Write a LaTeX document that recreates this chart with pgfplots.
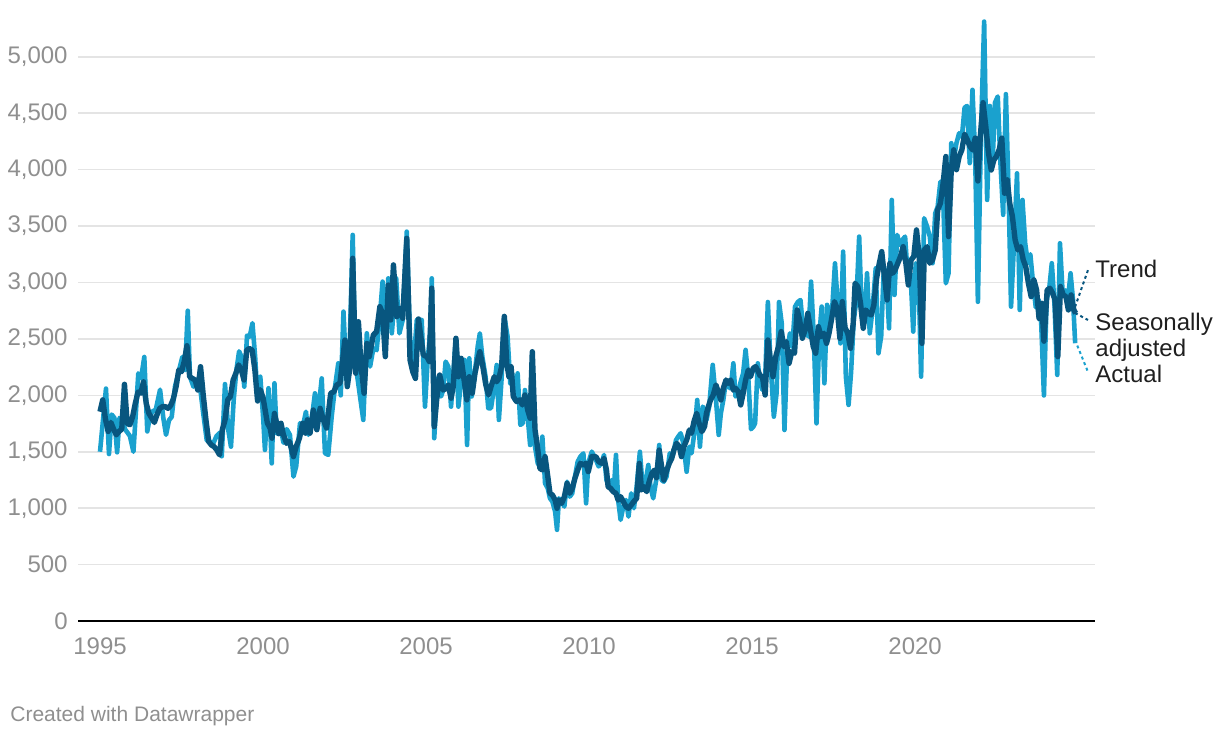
\documentclass[border=0pt]{standalone}
\usepackage{pgfplots}
\pgfplotsset{compat=1.18}
\usepackage{fontspec}
\setmainfont{Liberation Sans}
\definecolor{actual}{HTML}{1AA1CE}
\definecolor{sa}{HTML}{08567F}
\definecolor{tickc}{HTML}{8F8F8F}
\definecolor{gridc}{HTML}{E4E4E4}
\begin{document}
\begin{tikzpicture}[x=1pt,y=1pt]
\path (0,0) rectangle (610,369);
\begin{axis}[
 at={(39pt,58.5pt)}, anchor=south west,
 scale only axis, width=508.5pt, height=301.8pt,
 xmin=-8.1, xmax=366.2, ymin=0, ymax=5350,
 axis line style={draw=none},
 major tick length=0pt,
 xtick={0,60,120,180,240,300},
 xticklabels={1995,2000,2005,2010,2015,2020},
 ytick={0,500,...,5000},
 ymajorgrids, grid style={gridc, line width=0.8pt},
 extra y ticks={0}, extra y tick labels={},
 extra y tick style={grid style={black, line width=1pt}},
 tick label style={font=\fontsize{12}{14}\selectfont, text=tickc},
 /pgf/number format/assume math mode=true,
 yticklabel style={/pgf/number format/1000 sep={,}, anchor=east, inner sep=0pt, xshift=-5pt},
 xticklabel style={anchor=base, inner sep=0pt, yshift=-17pt},
 clip=false,
]
\addplot[actual, line width=2.3pt, line join=round] coordinates {
(0,1500)(2.2,2060)(3.3,1480)(4.3,1830)(5.3,1800)(6.3,1495)(7.2,1800)(8.2,1790)(9.2,1700)(11,1640)
(12.3,1500)(14.1,2195)(15.1,2150)(16.3,2340)(17.4,1680)(18.4,1815)(19.4,1860)(20.5,1870)(22.1,2050)(23.3,1800)
(24.3,1650)(25.4,1780)(26.4,1810)(27.6,2077)(28.8,2195)(30.3,2340)(31.3,2225)(32.3,2750)(33.1,2165)(34.4,2077)
(35.6,2136)(36.8,2077)(38,1840)(39.3,1600)(40.5,1590)(41.7,1575)(42.9,1640)(44.2,1670)(44.8,1460)(46,2100)
(47.2,1695)(48.2,1545)(49.2,1960)(50.2,2225)(51.2,2390)(52.1,2340)(53.1,2077)(54.1,2530)(55.1,2520)(56.1,2640)
(57.1,2340)(58,1960)(59,2165)(60.1,1782)(60.7,1516)(62,2063)(63.2,1397)(64.2,2107)(65,1663)(66.3,1750)
(67.5,1580)(68.7,1700)(69.9,1650)(71.2,1280)(72.2,1370)(73.6,1753)(74.6,1720)(75.8,1855)(76.7,1650)(77.9,1782)
(79.1,2018)(80,1782)(81.6,2150)(82.8,1487)(84,1472)(85.3,1820)(86.5,2077)(87.7,2284)(88.6,2000)(89.6,2742)
(90.6,2225)(91.8,2358)(93,3422)(93.9,2375)(94.7,2165)(95.7,1990)(96.9,1782)(98.2,2550)(99.4,2255)(100.6,2417)
(101.8,2400)(103,2697)(104,3008)(104.9,2521)(106.1,3037)(107.4,2550)(109,3037)(110.2,2550)(111.4,2668)(112.9,3451)
(114.1,2500)(115.3,2255)(116.6,2668)(118.4,2668)(119.6,1900)(120.6,2314)(121.6,2580)(122.1,3037)(123,1620)(124.3,2150)
(125.5,1990)(126.3,2047)(127.2,2299)(128.2,2255)(129.2,1900)(130,2180)(130.9,2491)(131.9,1900)(133.1,2165)(134.1,2314)
(135.1,1560)(135.9,2328)(136.8,1990)(137.8,2165)(139,2432)(139.8,2550)(140.7,2343)(141.9,2165)(142.9,1886)(143.9,1886)
(144.9,2047)(146,2269)(146.8,1782)(147.8,2150)(148.8,2700)(150,2520)(151,2106)(151.7,2195)(152.7,1960)(153.7,2195)
(154.7,1738)(155.6,1753)(156.4,2047)(157.4,1811)(158.3,1560)(159.1,1782)(160.1,1545)(161.1,1398)(161.9,1368)(162.8,1634)
(163.8,1220)(164.8,1176)(165.6,1087)(166.5,1058)(167.5,970)(168.2,808)(168.9,1087)(169.9,1058)(170.9,1014)(171.9,1235)
(172.9,1102)(173.8,1132)(174.8,1280)(175.8,1412)(176.8,1457)(177.9,1486)(178.9,1043)(179.7,1400)(181,1501)(182.5,1430)
(183.5,1370)(184.6,1398)(185.5,1472)(186.4,1249)(187.4,1190)(188.3,1249)(189.1,1161)(189.9,1472)(190.7,1072)(191.6,896)
(192.6,1013)(193.6,1072)(194.5,925)(195.5,1131)(196.5,999)(197.5,1190)(198.7,1500)(199.7,1190)(200.7,1220)(201.8,1383)
(202.6,1190)(203.6,1087)(204.8,1264)(205.8,1560)(206.7,1249)(207.5,1235)(208.5,1279)(209.7,1486)(210.7,1457)(212,1604)
(212.8,1634)(213.7,1664)(214.7,1575)(215.9,1323)(216.9,1545)(217.7,1486)(218.9,1693)(219.8,1959)(220.8,1545)(221.8,1900)
(222.6,1870)(223.2,1782)(224.2,1900)(225.5,2270)(226.7,1959)(227.7,1649)(228.5,1841)(229.4,1959)(230.4,2136)(231.2,2077)
(232.1,2062)(233.1,2284)(233.9,1990)(234.9,2018)(235.8,2121)(236.7,2195)(237.6,2403)(238.6,2150)(239.6,1700)(240.4,1720)
(241.1,1752)(242.1,2284)(243,2107)(243.8,2048)(244.8,2136)(245.8,2827)(246.7,2314)(248,1811)(249,2018)(249.9,2827)
(250.9,2638)(251.9,1693)(252.9,2373)(253.9,2550)(254.8,2432)(255.8,2786)(256.8,2827)(257.8,2845)(258.8,2580)(259.8,2580)
(260.7,2521)(261.7,3008)(262.7,2521)(263.7,1752)(264.7,2521)(265.6,2787)(266.6,2107)(267.6,2802)(268.6,2638)(269.6,2816)
(270.5,3170)(271.5,2816)(272.5,2461)(273.5,3274)(274.5,2166)(275.5,1915)(276.4,2196)(277.4,2668)(278.4,2845)(279.4,3407)
(280.4,2697)(281.3,2638)(282.3,3082)(283.3,2550)(284.3,2757)(285.5,3126)(286.5,2373)(287.5,2521)(288.5,3141)(289.4,3052)
(290.4,2594)(291.4,3732)(292.4,2890)(293.4,3422)(294.4,3333)(295.3,3377)(296.3,3407)(297.3,3052)(298.3,3082)(299.3,2565)
(300.2,3170)(301.2,3111)(302.2,2166)(303.3,3570)(304.4,3495)(305.4,3407)(306.4,3171)(307.4,3614)(308.3,3673)(309.3,3894)
(310.3,3760)(311.3,2993)(312.3,3082)(313.3,4235)(314.2,4088)(315.2,4235)(316.2,4324)(317.2,4290)(318.2,4550)(319.1,4565)
(320.1,4058)(321.1,4708)(322.1,4117)(323.1,2829)(324.2,4300)(325.4,5313)(326.5,3732)(327.5,4565)(328.5,4058)(329.4,4595)
(330.4,4649)(331.4,4058)(332.4,3600)(333.4,4670)(334.4,3791)(335.3,2786)(336.4,3348)(337.5,3968)(338.5,2757)(339.5,3732)
(340.5,3348)(341.5,3171)(342.4,3250)(343.4,2993)(344.4,2780)(345.4,2850)(346.4,2640)(347.4,1999)(348.4,2850)(349.3,2934)
(350.3,3171)(351.3,2800)(352.3,2181)(353.3,3348)(354.3,2900)(355.3,2930)(356.2,2840)(357.2,3082)(358.1,2846)(358.9,2462)
};
\addplot[sa, line width=2.7pt, line join=round] coordinates {
(0,1855)(1,1960)(2,1790)(3,1680)(4,1760)(5,1700)(6,1650)(7,1680)(8,1700)(9,2098)(10,1750)(11,1740)
(12,1810)(13,1930)(14,2030)(15,2020)(16,2120)(17,1930)(18,1840)(19,1800)(20,1760)(21,1830)(22,1885)(23,1900)
(24,1900)(25,1885)(26,1910)(27,1970)(28,2077)(29,2225)(30,2210)(31,2300)(32,2440)(33,2165)(34,2150)(35,2136)
(36,2047)(37,2254)(38,2000)(39,1780)(40,1590)(41,1560)(42,1545)(43,1516)(44,1472)(45,1695)(46,1780)(47,1960)
(48,1990)(49,2136)(50,2195)(51,2270)(52,2225)(53,2136)(54,2400)(55,2415)(56,2400)(57,2225)(58,1950)(59,2050)
(60,1980)(61.6,1753)(62.6,1710)(63.3,1620)(64.2,1840)(65,1753)(65.8,1660)(66.6,1753)(67.5,1650)(68.7,1575)
(69.7,1590)(70.6,1516)(71.2,1457)(72.2,1546)(73.4,1620)(74.6,1753)(75.6,1665)(76.3,1783)(77.3,1665)(78.5,1870)
(79.8,1695)(81,1885)(82.2,1783)(83.4,1710)(84.9,2018)(86.1,2033)(87.1,2092)(88.3,2107)(89.3,2314)(90.1,2490)
(91,2077)(92,2250)(93,3215)(94.1,2196)(95.1,2653)(96.1,2250)(97.2,2018)(98.2,2460)(99.1,2343)(100.6,2535)
(101.8,2565)(103,2786)(104,2727)(105,2343)(106.1,2978)(107,2668)(108,3156)(109.2,2697)(110.4,2771)(111.4,2683)
(112.9,3392)(114.1,2314)(115.1,2210)(116.1,2150)(117.2,2677)(119,2358)(120.3,2343)(121.2,2300)(122.1,2950)(123,1722)
(123.9,1960)(125,2180)(126.3,2047)(127.2,2060)(128.2,2092)(129.2,1975)(130,2077)(131,2506)(131.9,2165)(132.9,2328)
(134,2136)(135,1960)(135.9,2165)(137,2018)(138,2195)(139,2314)(139.8,2387)(140.7,2284)(142,2092)(143,2003)
(143.9,2077)(145.1,2165)(146,2121)(146.8,2150)(147.8,2254)(148.8,2700)(149.7,2284)(150.5,2165)(151.3,2254)(152.1,1990)
(153.3,1945)(154.6,1960)(155.4,1915)(156.4,2003)(157.4,1870)(158.3,1797)(159.1,2387)(160.1,1693)(161,1545)(161.9,1353)
(162.8,1339)(163.8,1457)(164.8,1280)(165.6,1132)(166.5,1117)(167.5,1073)(168.2,999)(168.9,1073)(169.9,1043)(170.9,1102)
(171.9,1220)(172.9,1132)(173.8,1176)(174.8,1265)(175.8,1339)(176.8,1398)(177.9,1383)(178.9,1398)(179.7,1324)(181,1457)
(182.5,1457)(183.5,1413)(184.6,1398)(185.5,1442)(186.4,1338)(187,1190)(187.9,1176)(188.9,1146)(189.9,1131)(190.7,1072)
(191.6,1102)(192.6,1058)(193.6,1013)(194.5,999)(195.5,1028)(196.5,1060)(197.5,1087)(198.5,1397)(199.3,1161)(200.2,1190)
(201.2,1146)(202.1,1235)(203.1,1309)(204.1,1338)(204.8,1270)(205.8,1515)(206.7,1368)(207.5,1249)(208.5,1330)(209.5,1397)
(210.4,1440)(211.2,1515)(212.2,1575)(213.2,1545)(214,1457)(214.9,1545)(215.9,1604)(216.9,1693)(217.7,1664)(218.6,1767)
(219.6,1841)(220.5,1753)(221.5,1678)(222.5,1723)(223.2,1841)(223.9,1900)(224.7,1959)(225.7,2004)(226.7,2092)(227.7,2018)
(228.5,1959)(229.4,2062)(230.4,2136)(231.2,2107)(232.1,2136)(233.1,2047)(233.9,2062)(234.9,2033)(235.8,1915)(236.7,2018)
(237.6,2136)(238.6,2225)(239.4,2165)(240.4,2240)(241.3,2255)(242.3,2210)(242.9,2175)(243.8,2166)(244.8,2003)(245.8,2491)
(246.7,2314)(247.7,2166)(248.7,2343)(249.7,2432)(250.7,2565)(251.7,2432)(252.6,2476)(253.6,2284)(254.6,2387)(255.6,2373)
(256.6,2757)(257.5,2668)(258.5,2506)(259.5,2580)(260.5,2727)(261.5,2580)(262.5,2432)(263.4,2373)(264.4,2609)(265.4,2520)
(266.4,2550)(267.4,2461)(268.3,2550)(269.3,2683)(270.3,2831)(271.3,2771)(272.3,2506)(273.2,2831)(274.2,2600)(275.2,2550)
(276.2,2417)(277.2,2638)(277.9,2993)(278.9,2963)(279.9,2816)(280.9,2594)(281.8,2757)(282.8,2727)(283.8,2712)(284.8,2800)
(285.8,3037)(286.7,3156)(287.7,3274)(288.7,3052)(289.7,2845)(290.7,3170)(291.7,3082)(292.6,3111)(293.6,3170)(294.6,3230)
(295.6,3318)(296.6,3170)(297.5,2978)(298.5,3200)(299.5,3230)(300.5,3466)(301.5,3230)(302.5,2461)(303.4,3289)(304.4,3318)
(305.4,3171)(306.4,3200)(307.4,3289)(308.3,3644)(309.3,3703)(310.3,3880)(311.3,4117)(312.3,3407)(313.3,4000)(314.2,4176)
(315.2,4000)(316.2,4117)(317.2,4176)(318.2,4315)(319.1,4270)(320.1,4210)(321.1,4176)(322.1,4280)(323.1,3900)(324,4300)
(325,4594)(326,4383)(327,4147)(328,3997)(329,4088)(329.9,4117)(330.9,4176)(331.9,4280)(332.9,3791)(333.9,3910)
(334.8,3703)(335.8,3585)(336.8,3378)(337.8,3289)(338.8,3318)(339.8,3200)(340.7,3141)(341.7,2993)(342.7,2875)(343.7,3023)
(344.7,2934)(345.6,2682)(346.6,2816)(347.4,2480)(348.6,2934)(349.6,2949)(350.6,2905)(351.5,2846)(352.5,2343)(353.5,2964)
(354.5,2890)(355.5,2875)(356.4,2757)(357.4,2890)(358.4,2757)(359.1,2727)
};
\end{axis}
\draw[sa, line width=1pt, dash pattern=on 1.5pt off 1.5pt] (537.5,215.5) -- (544,234);
\draw[sa, line width=1pt, dash pattern=on 1.5pt off 1.5pt] (537.5,212.5) -- (544,209);
\draw[actual, line width=1pt, dash pattern=on 1.5pt off 1.5pt] (537.5,199) -- (544,183);
\node[anchor=base west, inner sep=0pt, font=\fontsize{12}{14}\selectfont, text=black!88] at (547.5,230) {Trend};
\node[anchor=base west, inner sep=0pt, font=\fontsize{12}{14}\selectfont, text=black!88] at (547.5,203.5) {Seasonally};
\node[anchor=base west, inner sep=0pt, font=\fontsize{12}{14}\selectfont, text=black!88] at (547.5,190.5) {adjusted};
\node[anchor=base west, inner sep=0pt, font=\fontsize{12}{14}\selectfont, text=black!88] at (547.5,177.5) {Actual};
\node[anchor=base west, inner sep=0pt, font=\fontsize{10.5}{12}\selectfont, text=tickc] at (5,8) {Created with Datawrapper};
\end{tikzpicture}
\end{document}
